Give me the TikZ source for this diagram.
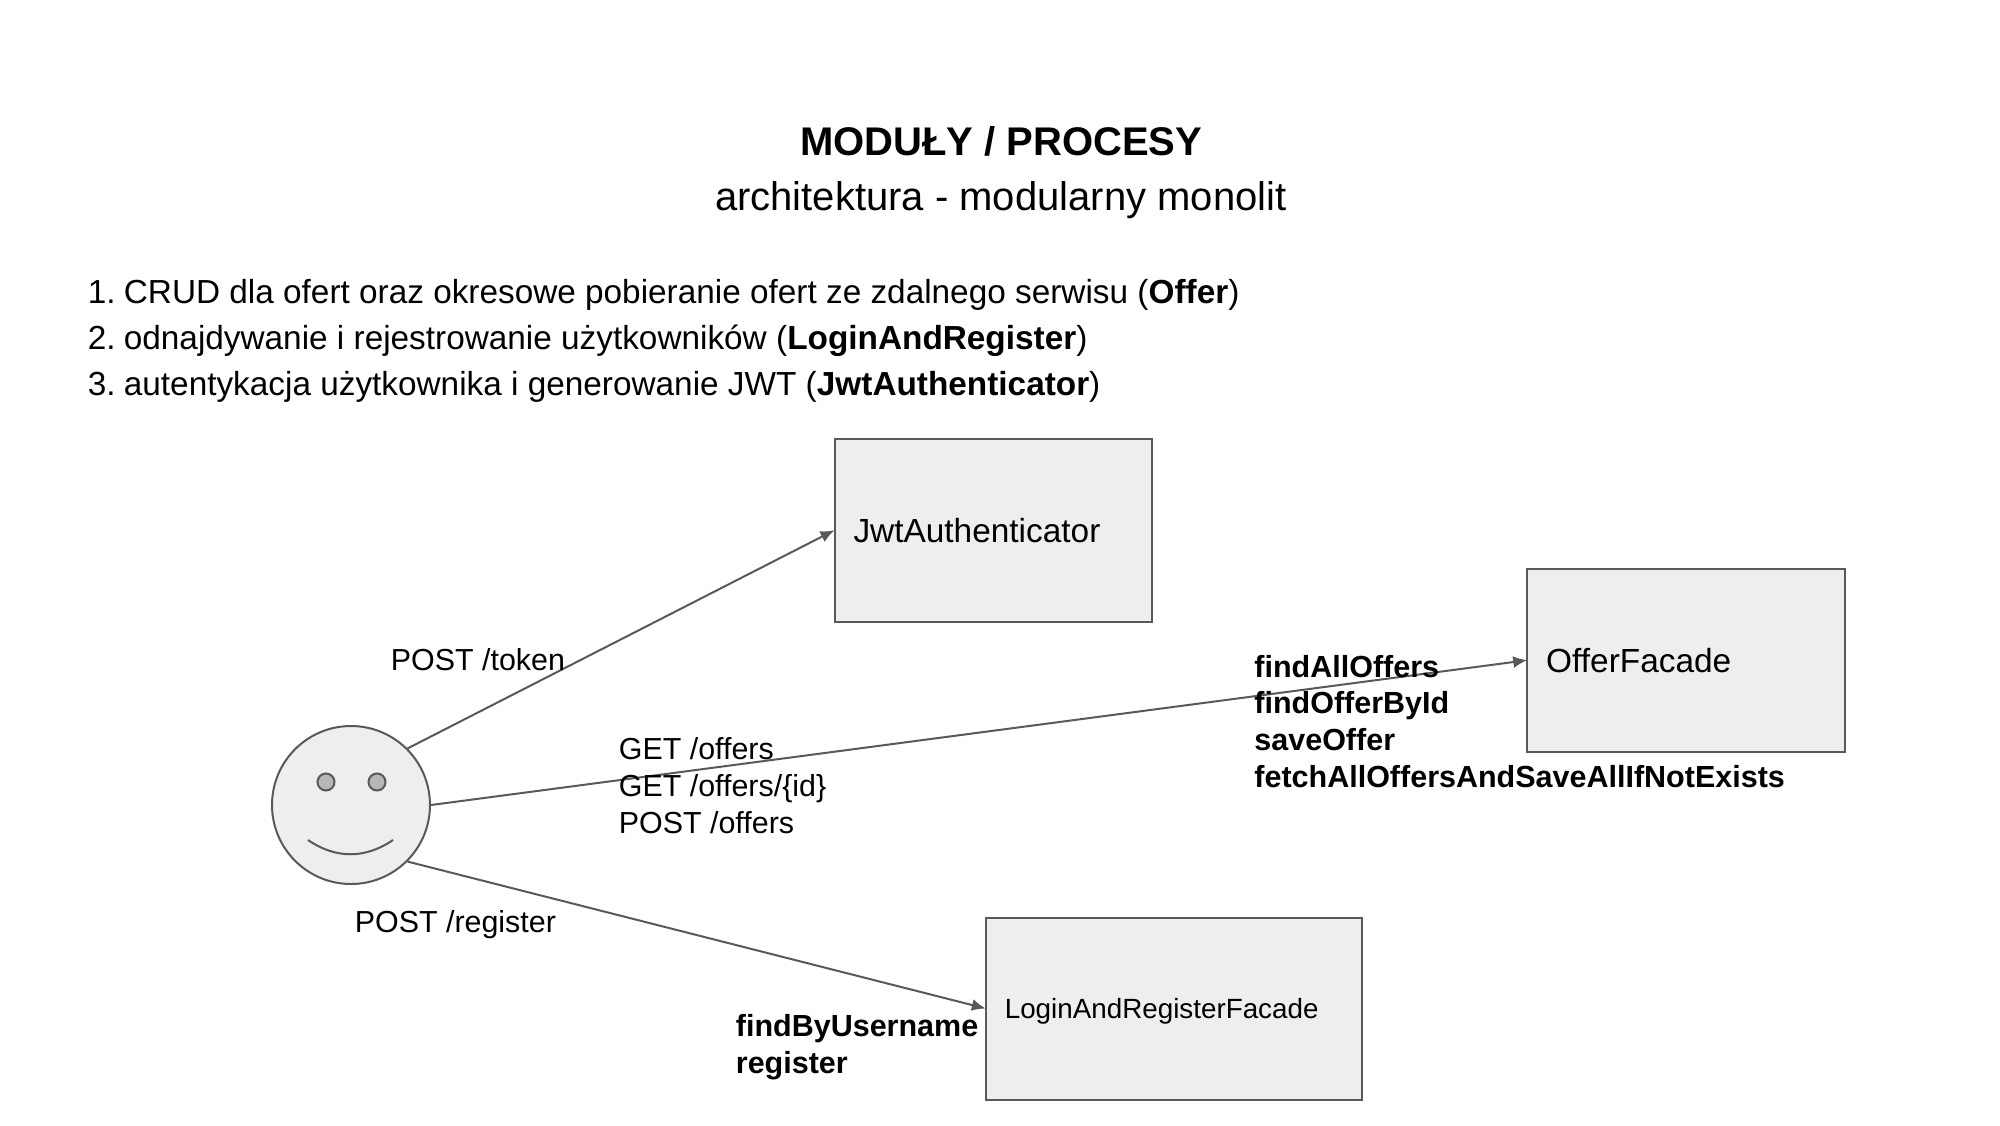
\documentclass[tikz,border=0pt]{standalone}
\usepackage{fontspec}
\setmainfont{Liberation Sans}
\usepackage{tikz}
\usetikzlibrary{arrows.meta}
\definecolor{shapefill}{HTML}{EEEEEE}
\definecolor{shapeline}{HTML}{595959}
\definecolor{eyefill}{HTML}{B7B7B7}
\newcommand{\listnum}[1]{\makebox[18pt][l]{#1.}}

\begin{document}
\begin{tikzpicture}[x=0.5pt,y=-0.5pt,
        module/.style={draw=shapeline,fill=shapefill,line width=1pt,outer sep=0pt,inner xsep=9.5pt,inner ysep=0pt,align=left,font=\fontsize{16.7pt}{20pt}\selectfont},
        flow/.style={draw=shapeline,line width=1pt,-{Latex[length=7pt,width=6pt]}},
        label/.style={align=left,inner sep=0pt,font=\fontsize{15.2pt}{18.5pt}\selectfont},
        method/.style={label,font=\fontsize{15.25pt}{18.4pt}\selectfont\bfseries}]
    \useasboundingbox (0,0) rectangle (2000,1125);
    % Title
    \node (title) at (1001.2,141) {\fontsize{20pt}{24pt}\selectfont\bfseries MODUŁY / PROCESY};
    \node (subtitle) at (1000.8,199.7) {\fontsize{20pt}{24pt}\selectfont architektura - modularny monolit};
    \node (modules) [anchor=north west,inner sep=0pt,align=left,font=\fontsize{16.67pt}{23pt}\selectfont] at (87.5,279) {%
        \listnum{1}CRUD dla ofert oraz okresowe pobieranie ofert ze zdalnego serwisu (\textbf{Offer})\\
        \listnum{2}odnajdywanie i rejestrowanie użytkowników (\textbf{LoginAndRegister})\\
        \listnum{3}autentykacja użytkownika i generowanie JWT (\textbf{JwtAuthenticator})};
    % Modules
    \node (jwt) [module,text width=139.8pt,minimum height=91.5pt] at (993.3,530.2) {JwtAuthenticator};
    \node (offer) [module,text width=139.8pt,minimum height=91.5pt] at (1686,660.2) {OfferFacade};
    \node (login) [module,text width=169.2pt,minimum height=91pt,text depth=0pt,font=\fontsize{13.9pt}{18pt}\selectfont] at (1174,1008.5) {LoginAndRegisterFacade};
    % User
    \node (face) [circle,draw=shapeline,fill=shapefill,line width=1pt,minimum size=79pt,inner sep=0pt] at (351,805) {};
    \node (lefteye) [circle,draw=shapeline,fill=eyefill,line width=1pt,minimum size=8.5pt,inner sep=0pt] at (326,782) {};
    \node (righteye) [circle,draw=shapeline,fill=eyefill,line width=1pt,minimum size=8.5pt,inner sep=0pt] at (377,782) {};
    \draw [shapeline,line width=1pt] (308,840) .. controls (336,859) and (365,859) .. (393,840);
    % Connectors
    \draw [flow] (face.45) -- (jwt.west);
    \draw [flow] (face.east) -- (offer.west);
    \draw [flow] (face.-45) -- (login.west);
    % Labels
    \node (tokenlabel) [label,anchor=west] at (390.5,659.5) {POST /token};
    \node (offerslabel) [label,anchor=north west] at (618.5,737) {GET /offers\\GET /offers/\{id\}\\POST /offers};
    \node (registerlabel) [label,anchor=west] at (354.5,925) {POST /register};
    \node (offermethods) [method,anchor=north west] at (1254,654.5) {findAllOffers\\findOfferById\\saveOffer\\fetchAllOffersAndSaveAllIfNotExists};
    \node (loginmethods) [method,anchor=north west] at (735.5,1014.3) {findByUsername\\register};
\end{tikzpicture}
\end{document}
